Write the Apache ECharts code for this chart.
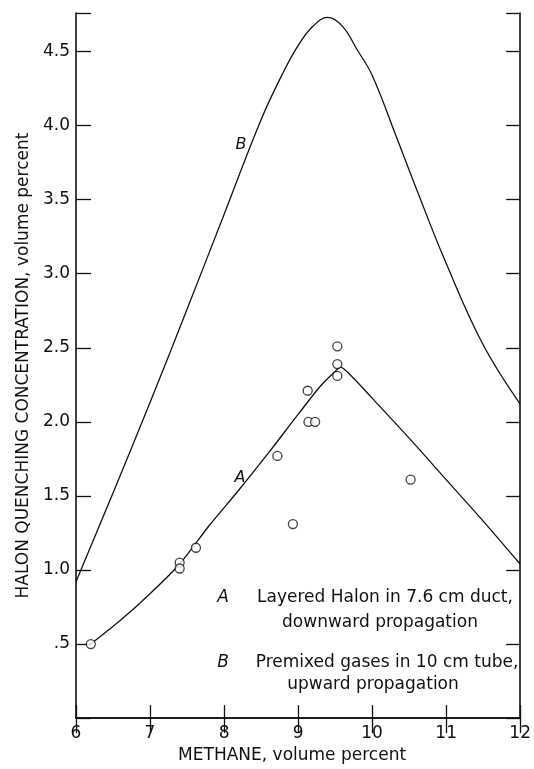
<!DOCTYPE html>
<html>
<head>
<meta charset="utf-8">
<title>Halon quenching concentration</title>
<script src="https://cdn.jsdelivr.net/npm/echarts@6.0.0/dist/echarts.min.js"></script>
<style>
  html, body { margin: 0; padding: 0; background: #fff; }
  #chart { width: 534px; height: 769px; }
</style>
</head>
<body>
<div id="chart"></div>
<script>
// curve A - layered halon, 7.6 cm duct
const curveAx = [6.2, 6.6, 7.0, 7.4, 7.8, 8.2, 8.6, 9.0, 9.3, 9.5, 9.57, 9.7, 10.0, 10.5, 11.0, 11.5, 12.0]
const curveAy = [0.50, 0.66, 0.84, 1.04, 1.30, 1.54, 1.79, 2.05, 2.24, 2.34, 2.37, 2.32, 2.16, 1.89, 1.61, 1.33, 1.04]

// curve B - premixed gases, 10 cm tube
const curveBx = [6.0, 6.5, 7.0, 7.5, 8.0, 8.5, 8.8, 9.0, 9.2, 9.4, 9.6, 9.8, 10.0, 10.3, 10.6, 11.0, 11.5, 12.0]
const curveBy = [0.92, 1.52, 2.13, 2.76, 3.40, 4.04, 4.36, 4.54, 4.67, 4.73, 4.67, 4.51, 4.34, 3.96, 3.57, 3.07, 2.52, 2.12]

// measured points (circles)
const pointsX = [6.2, 7.4, 7.4, 7.62, 8.72, 8.93, 9.13, 9.14, 9.23, 9.53, 9.53, 9.53, 10.52]
const pointsY = [0.50, 1.05, 1.01, 1.15, 1.77, 1.31, 2.21, 2.00, 2.00, 2.51, 2.39, 2.31, 1.61]

// tick labels
const xTickValues = [6, 7, 8, 9, 10, 11, 12]
const xTickLabels = ['6', '7', '8', '9', '10', '11', '12']
const yTickValues = [0.5, 1.0, 1.5, 2.0, 2.5, 3.0, 3.5, 4.0, 4.5]
const yTickLabels = ['.5', '1.0', '1.5', '2.0', '2.5', '3.0', '3.5', '4.0', '4.5']

const zip = (xs, ys) => xs.map((x, i) => [x, ys[i]])
const pick = (vals, labels, v) => {
  const i = vals.findIndex(t => Math.abs(t - v) < 1e-6)
  return i >= 0 ? labels[i] : ''
}

const FONT = 'DejaVu Sans'
const INK = '#111'

const chart = echarts.init(document.getElementById('chart'), null, { renderer: 'canvas' })

const axisLine = { show: true, lineStyle: { color: INK, width: 1.6 } }

const option = {
  backgroundColor: '#fff',
  animation: false,
  grid: { left: 76, right: 2, top: 13, bottom: 47 },
  xAxis: [
    {
      type: 'value',
      min: 6,
      max: 12,
      interval: 1,
      name: 'METHANE, volume percent',
      nameLocation: 'middle',
      nameGap: 28,
      nameTextStyle: { fontFamily: FONT, fontSize: 17, color: INK, padding: [0, 12, 0, 0] },
      axisLine: axisLine,
      axisTick: { inside: true, length: 13, lineStyle: { color: INK, width: 1.3 } },
      axisLabel: {
        fontFamily: FONT, fontSize: 17, color: INK, margin: 7,
        formatter: v => pick(xTickValues, xTickLabels, v)
      },
      splitLine: { show: false }
    },
    {
      type: 'value',
      position: 'top',
      min: 6,
      max: 12,
      interval: 1,
      axisLine: axisLine,
      axisTick: { inside: true, length: 15, lineStyle: { color: INK, width: 1.3 } },
      axisLabel: { show: false },
      splitLine: { show: false }
    }
  ],
  yAxis: [
    {
      type: 'value',
      min: 0,
      max: 4.76,
      interval: 0.5,
      name: 'HALON QUENCHING CONCENTRATION, volume percent',
      nameLocation: 'middle',
      nameGap: 34,
      nameTextStyle: { fontFamily: FONT, fontSize: 17, color: INK },
      axisLine: axisLine,
      axisTick: { inside: true, length: 15, lineStyle: { color: INK, width: 1.3 } },
      axisLabel: {
        fontFamily: FONT, fontSize: 17, color: INK, margin: 6,
        formatter: v => pick(yTickValues, yTickLabels, v)
      },
      splitLine: { show: false }
    },
    {
      type: 'value',
      position: 'right',
      min: 0,
      max: 4.76,
      interval: 0.5,
      axisLine: axisLine,
      axisTick: { inside: true, length: 14, lineStyle: { color: INK, width: 1.3 } },
      axisLabel: { show: false },
      splitLine: { show: false }
    }
  ],
  series: [
    {
      name: 'B',
      type: 'line',
      data: zip(curveBx, curveBy),
      smooth: 0.4,
      showSymbol: false,
      lineStyle: { color: INK, width: 1.3 },
      z: 2
    },
    {
      name: 'A',
      type: 'line',
      data: zip(curveAx, curveAy),
      smooth: 0.3,
      showSymbol: false,
      lineStyle: { color: INK, width: 1.3 },
      z: 2
    },
    {
      name: 'measured',
      type: 'scatter',
      data: zip(pointsX, pointsY),
      symbol: 'circle',
      symbolSize: 9,
      itemStyle: { color: '#fff', borderColor: INK, borderWidth: 1.3 },
      z: 5
    }
  ],
  // curve labels and the key text
  graphic: [
    { type: 'text', x: 240, y: 478, style: { text: 'A', fontFamily: FONT, fontStyle: 'italic', fontSize: 16, fill: INK, align: 'center', verticalAlign: 'middle' } },
    { type: 'text', x: 241, y: 145, style: { text: 'B', fontFamily: FONT, fontStyle: 'italic', fontSize: 16, fill: INK, align: 'center', verticalAlign: 'middle' } },
    { type: 'text', x: 223, y: 598, style: { text: 'A', fontFamily: FONT, fontStyle: 'italic', fontSize: 17, fill: INK, align: 'center', verticalAlign: 'middle' } },
    { type: 'text', x: 385, y: 598, style: { text: 'Layered Halon in 7.6 cm duct,', fontFamily: FONT, fontSize: 17, fill: INK, align: 'center', verticalAlign: 'middle' } },
    { type: 'text', x: 380, y: 623, style: { text: 'downward propagation', fontFamily: FONT, fontSize: 17, fill: INK, align: 'center', verticalAlign: 'middle' } },
    { type: 'text', x: 223, y: 663, style: { text: 'B', fontFamily: FONT, fontStyle: 'italic', fontSize: 17, fill: INK, align: 'center', verticalAlign: 'middle' } },
    { type: 'text', x: 387, y: 663, style: { text: 'Premixed gases in 10 cm tube,', fontFamily: FONT, fontSize: 17, fill: INK, align: 'center', verticalAlign: 'middle' } },
    { type: 'text', x: 373, y: 685, style: { text: 'upward propagation', fontFamily: FONT, fontSize: 17, fill: INK, align: 'center', verticalAlign: 'middle' } }
  ]
}

chart.setOption(option)
</script>
</body>
</html>
